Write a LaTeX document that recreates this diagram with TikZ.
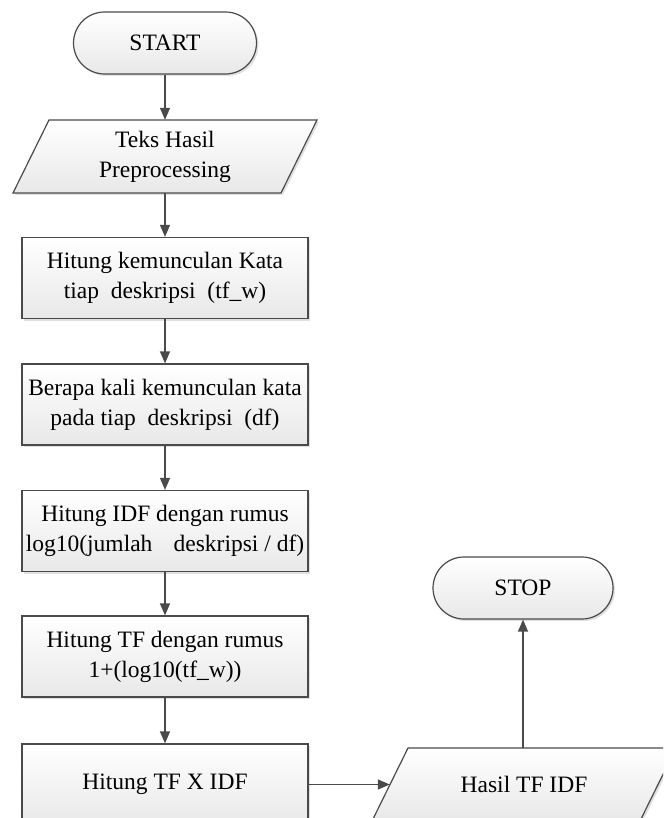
\documentclass[tikz,border=0pt]{standalone}
\usepackage{fontspec}
\setmainfont{Liberation Serif}
\newfontfamily\flowfont{Liberation Serif}
\usetikzlibrary{arrows.meta,calc,shadows}
\definecolor{edge}{HTML}{4A4A4A}
\definecolor{shade}{HTML}{E8E8E8}
% parallelogram (data) symbol around a coordinate: edge length 268, height 73, slant 36
\newcommand\ioshape[1]{%
  \fill[black,opacity=0.12] ($(#1)+(-114,-34.5)$) -- ($(#1)+(154,-34.5)$) -- ($(#1)+(118,38.5)$) -- ($(#1)+(-150,38.5)$) -- cycle;
  \draw[iofill] ($(#1)+(-116,-36.5)$) -- ($(#1)+(152,-36.5)$) -- ($(#1)+(116,36.5)$) -- ($(#1)+(-152,36.5)$) -- cycle;}
\begin{document}
\begin{tikzpicture}[x=1pt,y=-1pt,
  every node/.style={font=\flowfont\fontsize{23.5}{30}\selectfont, align=center, text=black},
  flowbox/.style={draw=edge, line width=1.2pt, top color=white, bottom color=shade,
    minimum width=286pt, minimum height=81pt, inner sep=0pt,
    drop shadow={shadow xshift=2pt, shadow yshift=-2pt, fill=black, opacity=0.12}},
  terminal/.style={flowbox, rounded corners=31pt, minimum width=183pt, minimum height=62pt},
  iobox/.style={minimum width=268pt, minimum height=73pt, inner sep=0pt},
  iofill/.style={draw=edge, line width=1.2pt, top color=white, bottom color=shade},
  flow/.style={draw=edge, line width=1.3pt, -{Triangle[length=12pt,width=10pt]}}
]
\useasboundingbox (0,0) rectangle (663,818);
\clip (0,0) rectangle (663,818);

% main column
\node[terminal] (start) at (165,43) {START};

\coordinate (inC) at (165,156.5);
\ioshape{inC}
\node[iobox] (in) at (inC) {Teks Hasil\\Preprocessing};

\node[flowbox] (tfw) at (165,278) {Hitung kemunculan Kata\\tiap\hspace{0.5em}deskripsi\hspace{0.5em}(tf\_w)};
\node[flowbox] (df) at (165,404.5) {Berapa kali kemunculan kata\\pada tiap\hspace{0.5em}deskripsi\hspace{0.5em}(df)};
\node[flowbox] (idf) at (165,531) {Hitung IDF dengan rumus\\log10(jumlah\hspace{0.9em}deskripsi / df)};
\node[flowbox] (tf) at (165,656.5) {Hitung TF dengan rumus\\1+(log10(tf\_w))};
\node[flowbox] (tfidf) at (165,784.5) {Hitung TF X IDF};

% output and end
\coordinate (outC) at (524,784.5);
\ioshape{outC}
\node[iobox] (out) at (outC) {Hasil TF IDF};
\node[terminal, minimum width=180pt] (stop) at (523,588) {STOP};

% connectors
\draw[flow] (start) -- (in);
\draw[flow] (in) -- (tfw);
\draw[flow] (tfw) -- (df);
\draw[flow] (df) -- (idf);
\draw[flow] (idf) -- (tf);
\draw[flow] (tf) -- (tfidf);
\draw[flow] (tfidf.east) -- (out.west);
\draw[flow] (out.north -| stop.south) -- (stop.south);
\end{tikzpicture}
\end{document}
